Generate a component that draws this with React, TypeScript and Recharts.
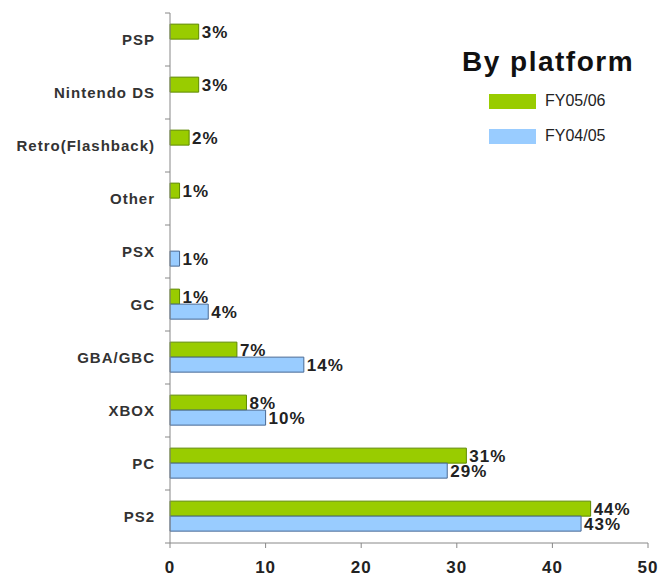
import React from 'react';
import {
  BarChart,
  Bar,
  XAxis,
  YAxis,
  Legend,
  LabelList,
} from 'recharts';

const platforms = ['PSP', 'Nintendo DS', 'Retro(Flashback)', 'Other', 'PSX', 'GC', 'GBA/GBC', 'XBOX', 'PC', 'PS2'];
const fy0506 = [3, 3, 2, 1, null, 1, 7, 8, 31, 44];
const fy0405 = [null, null, null, null, 1, 4, 14, 10, 29, 43];
const xTicks = [0, 10, 20, 30, 40, 50];

const data = platforms.map((name, i) => ({ name, fy0506: fy0506[i], fy0405: fy0405[i] }));

const FONT = '"Liberation Sans", Arial, sans-serif';
const TOP = 13;
const BOTTOM_AXIS = 543;
const HALF_BAND = (BOTTOM_AXIS - TOP) / platforms.length / 2;
const GAP = 15;

// category label plus a tick on the band boundary
const CategoryTick = (props: any) => {
  const { x, y, payload, index } = props;
  const axisX = x + GAP;
  return (
    <g>
      <line x1={axisX - 5} x2={axisX} y1={y - HALF_BAND} y2={y - HALF_BAND} stroke="#888" />
      {index === platforms.length - 1 && (
        <line x1={axisX - 5} x2={axisX} y1={y + HALF_BAND} y2={y + HALF_BAND} stroke="#888" />
      )}
      <text x={x} y={y} dy={5} textAnchor="end" fill="#333" fontSize={15} fontWeight="bold" letterSpacing={1} fontFamily={FONT}>
        {payload.value}
      </text>
    </g>
  );
};

const LegendBox = () => (
  <div style={{ fontFamily: FONT }}>
    <div style={{ fontSize: 28, fontWeight: 'bold', color: '#111', letterSpacing: 1.5, lineHeight: '32px', marginBottom: 15 }}>By platform</div>
    {[
      { label: 'FY05/06', color: '#99cc00' },
      { label: 'FY04/05', color: '#99ccff' },
    ].map((it) => (
      <div key={it.label} style={{ display: 'flex', alignItems: 'center', marginLeft: 27, marginBottom: 19, height: 16 }}>
        <div style={{ width: 47, height: 15, background: it.color, marginRight: 9 }} />
        <span style={{ fontSize: 16, color: '#222' }}>{it.label}</span>
      </div>
    ))}
  </div>
);

const labelStyle = { fill: '#222', fontSize: 17, fontWeight: 'bold', letterSpacing: 1, fontFamily: FONT };
const pct = (v: any) => (v == null ? '' : `${v}%`);

export default function App() {
  return (
    <div style={{ position: 'absolute', left: 0, top: 0, width: 661, height: 583, background: '#fff' }}>
      <BarChart
        width={661}
        height={583}
        data={data}
        layout="vertical"
        margin={{ top: TOP, right: 13, left: 0, bottom: 10 }}
        barCategoryGap="21%"
        barGap={0}
      >
        <XAxis
          type="number"
          domain={[0, 50]}
          ticks={xTicks}
          stroke="#888"
          tickSize={5}
          tickMargin={13}
          height={30}
          tick={{ fill: '#222', fontSize: 17, fontWeight: 'bold', letterSpacing: 1, fontFamily: FONT }}
        />
        <YAxis
          type="category"
          dataKey="name"
          width={170}
          stroke="#888"
          tickLine={false}
          tickSize={0}
          tickMargin={GAP}
          tick={<CategoryTick />}
        />
        <Legend
          layout="horizontal"
          verticalAlign="middle"
          align="center"
          content={<LegendBox />}
          wrapperStyle={{ left: 462, top: 46, width: 195, height: 120 }}
        />
        <Bar dataKey="fy0506" name="FY05/06" fill="#99cc00" stroke="#5f8a00" isAnimationActive={false}>
          <LabelList dataKey="fy0506" position="right" offset={3} formatter={pct} style={labelStyle} />
        </Bar>
        <Bar dataKey="fy0405" name="FY04/05" fill="#99ccff" stroke="#4a6a94" isAnimationActive={false}>
          <LabelList dataKey="fy0405" position="right" offset={3} formatter={pct} style={labelStyle} />
        </Bar>
      </BarChart>
    </div>
  );
}
